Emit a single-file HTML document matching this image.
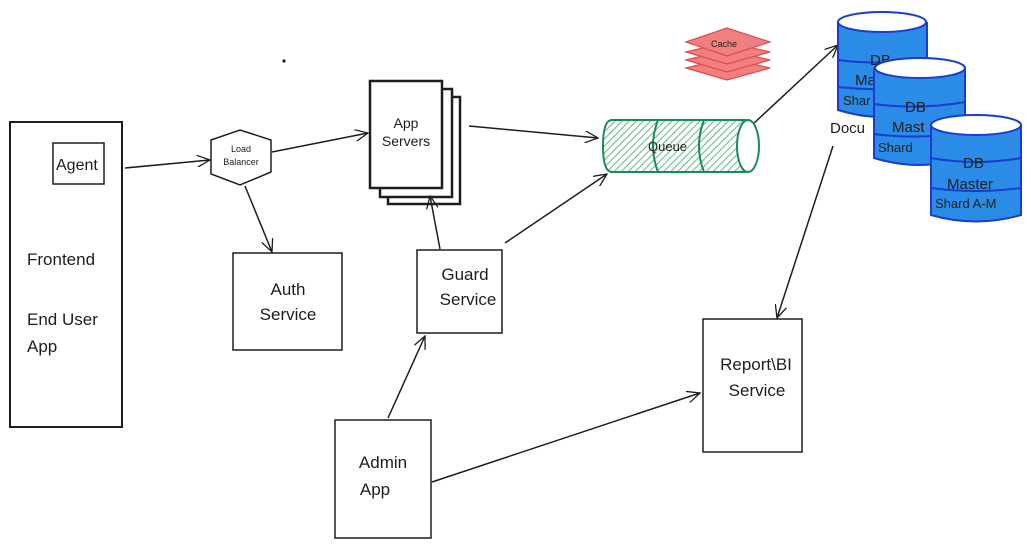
<!DOCTYPE html>
<html><head><meta charset="utf-8"><style>
html,body{margin:0;padding:0;background:#fff;}
svg{display:block;}
text{font-family:"Liberation Sans",sans-serif;fill:#1e1e1e;}
</style></head><body>
<svg width="1031" height="547" viewBox="0 0 1031 547" xmlns="http://www.w3.org/2000/svg">
<defs>
<pattern id="h" width="5" height="5" patternUnits="userSpaceOnUse" patternTransform="rotate(45)">
<rect width="5" height="5" fill="#fff"/><line x1="0" y1="0" x2="0" y2="5" stroke="#6cc08c" stroke-width="2.2"/>
</pattern>
<marker id="a" markerWidth="14" markerHeight="12" refX="13" refY="6" orient="auto" markerUnits="userSpaceOnUse">
<path d="M0,0 L13,6 L0,12" fill="none" stroke="#1e1e1e" stroke-width="1.3"/>
</marker>
</defs>
<g fill="none" stroke="#1e1e1e" stroke-width="1.5">
<rect x="10" y="122" width="112" height="305" stroke-width="2"/>
<rect x="53" y="143" width="51" height="41"/>
<polygon points="211,140 240,130 271,140 271,172 240,185 211,174"/>
<rect x="388" y="97" width="72" height="107" stroke-width="2.5" fill="#fff"/>
<rect x="380" y="89" width="72" height="108" stroke-width="2.5" fill="#fff"/>
<rect x="370" y="81" width="72" height="107" stroke-width="2.5" fill="#fff"/>
<rect x="233" y="253" width="109" height="97"/>
<rect x="417" y="250" width="85" height="83"/>
<rect x="335" y="420" width="96" height="118"/>
<rect x="703" y="319" width="99" height="133"/>
<g marker-end="url(#a)">
<line x1="125" y1="168" x2="210" y2="160"/>
<line x1="272" y1="152" x2="368" y2="133"/>
<line x1="245" y1="186" x2="272" y2="252"/>
<line x1="469" y1="126" x2="598" y2="138"/>
<line x1="440" y1="249" x2="430" y2="196"/>
<line x1="505" y1="243" x2="607" y2="174"/>
<line x1="752" y1="125" x2="838" y2="45"/>
<line x1="833" y1="146" x2="777" y2="318"/>
<line x1="388" y1="418" x2="425" y2="336"/>
<line x1="432" y1="482" x2="700" y2="393"/>
</g>
</g>
<circle cx="284" cy="61" r="1.6" fill="#1e1e1e"/>
<g stroke="#1a8a5a" stroke-width="2">
<path d="M612,120 L745,120 L745,172 L612,172 Q603,172 603,146 Q603,120 612,120Z" fill="url(#h)"/>
<path d="M658,120 Q648,146 658,172" fill="none"/>
<path d="M704,120 Q694,146 704,172" fill="none"/>
<ellipse cx="748" cy="146" rx="11" ry="26" fill="#fff"/>
</g>
<text x="648" y="151" font-size="13">Queue</text>
<g fill="#f08080" stroke="#e04a4a" stroke-width="1.2">
<polygon points="686,68 727,58 770,68 727,80"/>
<polygon points="686,60 727,50 770,60 727,72"/>
<polygon points="686,52 727,42 770,52 727,64"/>
<polygon points="686,42 727,28 770,42 727,56"/>
</g>
<text x="711" y="47" font-size="9">Cache</text>
<g stroke="#1a3cd0" stroke-width="2" fill="#2a8ce6">
<path d="M838,22 L838,110 Q882,124 927,110 L927,22"/>
<ellipse cx="882" cy="22" rx="44" ry="10" fill="#fff"/>
<path d="M838,60 Q882,66 927,58 M838,87 Q882,92 927,85" fill="none"/>
</g>
<text x="830" y="133" font-size="15">Docu</text>
<text x="870" y="65" font-size="15">DB</text>
<text x="855" y="85" font-size="15">Mas</text>
<text x="843" y="105" font-size="13">Shar</text>
<g stroke="#1a3cd0" stroke-width="2" fill="#2a8ce6">
<path d="M874,68 L874,158 Q920,172 965,158 L965,68"/>
<ellipse cx="920" cy="68" rx="45" ry="10" fill="#fff"/>
<path d="M874,104 Q920,110 965,102 M874,134 Q920,140 965,132" fill="none"/>
</g>
<text x="905" y="112" font-size="15">DB</text>
<text x="892" y="132" font-size="15">Mast</text>
<text x="878" y="152" font-size="13">Shard</text>
<g stroke="#1a3cd0" stroke-width="2" fill="#2a8ce6">
<path d="M931,125 L931,215 Q976,228 1021,215 L1021,125"/>
<ellipse cx="976" cy="125" rx="45" ry="10" fill="#fff"/>
<path d="M931,158 Q976,166 1021,158 M931,188 Q976,194 1021,188" fill="none"/>
</g>
<text x="963" y="168" font-size="15">DB</text>
<text x="947" y="189" font-size="15">Master</text>
<text x="935" y="208" font-size="13">Shard A-M</text>
<text x="56" y="170" font-size="16">Agent</text>
<text x="27" y="265" font-size="17">Frontend</text>
<text x="27" y="325" font-size="17">End User</text>
<text x="27" y="352" font-size="17">App</text>
<text x="241" y="152" font-size="9" text-anchor="middle">Load</text>
<text x="241" y="165" font-size="9" text-anchor="middle">Balancer</text>
<text x="406" y="128" font-size="14" text-anchor="middle">App</text>
<text x="406" y="146" font-size="14" text-anchor="middle">Servers</text>
<text x="288" y="295" font-size="17" text-anchor="middle">Auth</text>
<text x="288" y="320" font-size="17" text-anchor="middle">Service</text>
<text x="465" y="280" font-size="17" text-anchor="middle">Guard</text>
<text x="468" y="305" font-size="17" text-anchor="middle">Service</text>
<text x="383" y="468" font-size="17" text-anchor="middle">Admin</text>
<text x="375" y="495" font-size="17" text-anchor="middle">App</text>
<text x="756" y="370" font-size="17" text-anchor="middle">Report\BI</text>
<text x="757" y="396" font-size="17" text-anchor="middle">Service</text>
</svg>
</body></html>
